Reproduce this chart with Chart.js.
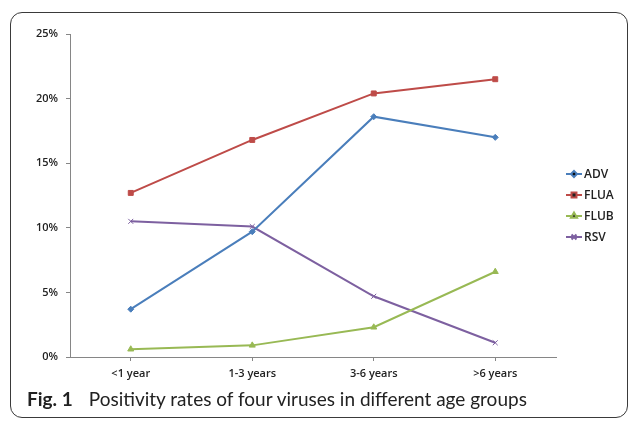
<!DOCTYPE html>
<html>
<head>
<meta charset="utf-8">
<script src="https://cdn.jsdelivr.net/npm/chart.js@4"></script>
<style>
  body { margin: 0; background: #fff; }
  #wrap { position: relative; width: 629px; height: 421px; overflow: hidden; }
  #frame {
    position: absolute; left: 10px; top: 12px; width: 618px; height: 406px;
    border: 1.5px solid #3a3a3a; border-radius: 12px; box-sizing: border-box;
  }
  #chart { position: absolute; left: 0; top: 0; }
  #caption {
    position: absolute; left: 27px; top: 387px; font-family: Lato, sans-serif;
    font-size: 19px; color: #222; white-space: nowrap;
  }
  #caption b { font-weight: 700; margin-right: 16px; }
</style>
</head>
<body>
<div id="wrap">
  <div id="frame"></div>
  <canvas id="chart" width="629" height="421"></canvas>
  <div id="caption"><b>Fig. 1</b>Positivity rates of four viruses in different age groups</div>
</div>
<script>
// 年齢グループ
let ageGroups = ['<1 year', '1-3 years', '3-6 years', '>6 years'];

// ウイルス別の陽性率 (%)
let adv  = [3.7, 9.7, 18.6, 17.0];
let flua = [12.7, 16.8, 20.4, 21.5];
let flub = [0.6, 0.9, 2.3, 6.6];
let rsv  = [10.5, 10.1, 4.7, 1.1];

let yTicks = [0, 5, 10, 15, 20, 25];

let font = 'Open Sans';

// 凡例 (線 + マーカー) を右側に描く
let sideLegend = {
    id: 'sideLegend',
    afterDraw(chart) {
        let ctx = chart.ctx;
        ctx.save();
        chart.data.datasets.forEach((ds, i) => {
            let y = 174 + i * 21;
            let x = 566;
            ctx.strokeStyle = ds.borderColor;
            ctx.lineWidth = 2;
            ctx.beginPath();
            ctx.moveTo(x, y);
            ctx.lineTo(x + 16, y);
            ctx.stroke();
            Chart.helpers.drawPoint(ctx, {
                pointStyle: ds.pointStyle,
                radius: ds.pointRadius,
                borderWidth: 1
            }, x + 8, y);
            ctx.fillStyle = '#222';
            ctx.font = '600 12px ' + font;
            ctx.textBaseline = 'middle';
            ctx.fillText(ds.label, x + 18, y + 1);
        });
        ctx.restore();
    }
};

function series(label, data, color, style, r) {
    return {
        label: label,
        data: data,
        borderColor: color,
        backgroundColor: color,
        pointBorderColor: color,
        pointBackgroundColor: color,
        pointStyle: style,
        pointRadius: r,
        pointBorderWidth: 1,
        borderWidth: 2,
        tension: 0,
    };
}

new Chart(document.getElementById('chart'), {
    type: 'line',
    data: {
        labels: ageGroups,
        datasets: [
            series('ADV', adv, '#4A7EBB', 'rectRot', 3),
            series('FLUA', flua, '#BE4B48', 'rect', 3.5),
            series('FLUB', flub, '#98B954', 'triangle', 3.5),
            series('RSV', rsv, '#7D60A0', 'crossRot', 3.5),
        ],
    },
    options: {
        responsive: false,
        animation: false,
        layout: { padding: { left: 0, top: 34, right: 73, bottom: 34 } },
        plugins: {
            legend: { display: false },
            tooltip: { enabled: false },
        },
        scales: {
            x: {
                offset: true,
                grid: { drawOnChartArea: false, tickLength: 4, color: '#868686' },
                border: { color: '#868686', width: 1 },
                ticks: { color: '#222', padding: 6, font: { family: font, size: 11, weight: 600 } },
                afterFit: (s) => { s.height = 30; },
            },
            y: {
                min: 0,
                max: 25,
                afterBuildTicks: (s) => { s.ticks = yTicks.map(v => ({ value: v })); },
                grid: { drawOnChartArea: false, tickLength: 4, color: '#868686' },
                border: { color: '#868686', width: 1 },
                ticks: {
                    color: '#222', padding: 8,
                    font: { family: font, size: 11, weight: 600 },
                    callback: (v) => v + '%',
                },
                afterFit: (s) => { s.width = 70; },
            },
        },
    },
    plugins: [sideLegend],
});
</script>
</body>
</html>
